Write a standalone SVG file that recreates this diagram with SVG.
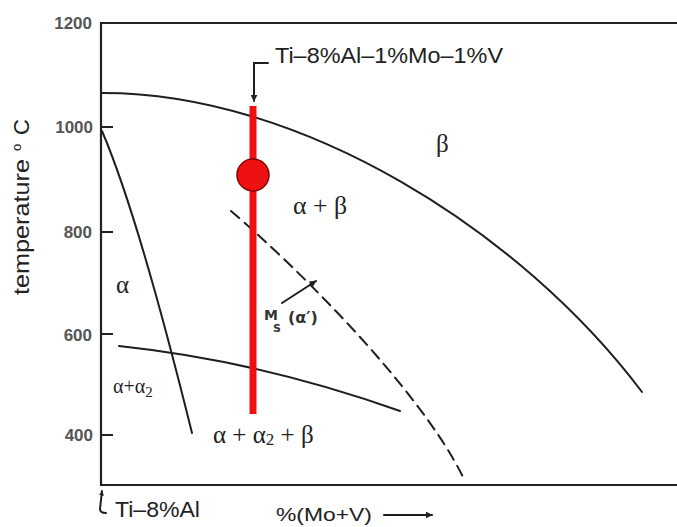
<svg xmlns="http://www.w3.org/2000/svg" width="677" height="527" viewBox="0 0 677 527">
<style>
.ln{fill:none;stroke:#1e1e1e;stroke-width:2;stroke-linecap:round}
.ax{fill:none;stroke:#222;stroke-width:2.2}
.tk{font-family:"Liberation Sans",Arial,sans-serif;font-size:17px;font-weight:bold;fill:#555;text-anchor:end}
.sans{font-family:"Liberation Sans",Arial,sans-serif;fill:#222}
.gr{font-family:"Liberation Serif","Times New Roman",serif;fill:#222}
.hand{font-family:"DejaVu Sans",sans-serif;font-weight:bold;fill:#333}
</style>
<defs>
<marker id="ah" viewBox="0 0 10 10" refX="9" refY="5" markerWidth="7" markerHeight="7" orient="auto" markerUnits="userSpaceOnUse">
<path d="M0,0 L10,5 L0,10 z" fill="#222"/>
</marker>
<marker id="ahs" viewBox="0 0 10 10" refX="9" refY="5" markerWidth="5" markerHeight="5" orient="auto-start-reverse" markerUnits="userSpaceOnUse">
<path d="M0,0 L10,5 L0,10 z" fill="#222"/>
</marker>
</defs>
<rect width="677" height="527" fill="#fff"/>

<g id="axes">
<path class="ax" d="M677,23 L101,23 L101,485 L677,485"/>
<path class="ax" d="M101,127 H113 M101,232 H113 M101,334 H113 M101,435 H113"/>
<text class="tk" x="92" y="29">1200</text>
<text class="tk" x="93" y="133">1000</text>
<text class="tk" x="92" y="238">800</text>
<text class="tk" x="92" y="341">600</text>
<text class="tk" x="93" y="441">400</text>
<g transform="translate(29,295) rotate(-90)">
<text class="sans" x="0" y="0" font-size="22" textLength="136" lengthAdjust="spacingAndGlyphs">temperature</text>
<text class="sans" x="144" y="-8" font-size="13">o</text>
<text class="sans" x="160" y="0" font-size="22">C</text>
</g>
<path class="ln" d="M102,491 L100,509 Q100,513 106,513" marker-start="url(#ahs)"/>
<text class="sans" x="115" y="517" font-size="22" textLength="85" lengthAdjust="spacingAndGlyphs">Ti–8%Al</text>
<text class="sans" x="276" y="521" font-size="19" textLength="96" lengthAdjust="spacingAndGlyphs">%(Mo+V)</text>
<path class="ln" d="M384,515 H432" marker-end="url(#ah)"/>
</g>

<g id="connectors">
<path id="beta-transus" class="ln" d="M101,93 C300,92 520,230 642,392"/>
<path id="alpha-boundary" class="ln" d="M102,131 Q138,215 192,433"/>
<path id="alpha2-boundary" class="ln" d="M119,346 Q260,361 400,411"/>
<path id="ms-line" class="ln" d="M231,211 C300,270 420,390 463,477" stroke-dasharray="11 7" stroke-linecap="butt"/>
<path id="ms-arrow" class="ln" d="M282,303 L316,281" stroke-width="1.6" marker-end="url(#ah)"/>
<path id="alloy-arrow" class="ln" d="M268,63 H254 V101" stroke-width="1.8" marker-end="url(#ah)"/>
</g>

<g id="alloy">
<line x1="253" y1="106" x2="253" y2="414" stroke="#ee1111" stroke-width="7"/>
<circle cx="253" cy="175" r="16" fill="#ee1111" stroke="#8a0000" stroke-width="1.5"/>
<text class="sans" x="275" y="63" font-size="22" textLength="228" lengthAdjust="spacingAndGlyphs">Ti–8%Al–1%Mo–1%V</text>
</g>

<g id="labels">
<text class="gr" x="436" y="152" font-size="25">β</text>
<text class="gr" x="293" y="214" font-size="25" textLength="54" lengthAdjust="spacingAndGlyphs">α + β</text>
<text class="gr" x="116" y="293" font-size="25">α</text>
<text class="gr" x="113" y="393" font-size="20">α+α<tspan font-size="15" dy="4">2</tspan></text>
<text class="gr" x="213" y="443" font-size="25">α + α<tspan font-size="17" dy="2">2</tspan><tspan dy="-2"> + β</tspan></text>
<text class="hand" x="264" y="320" font-size="14">M</text>
<text class="hand" x="273" y="332" font-size="11">S</text>
<text class="hand" x="288" y="323" font-size="16">(α′)</text>
</g>
</svg>
